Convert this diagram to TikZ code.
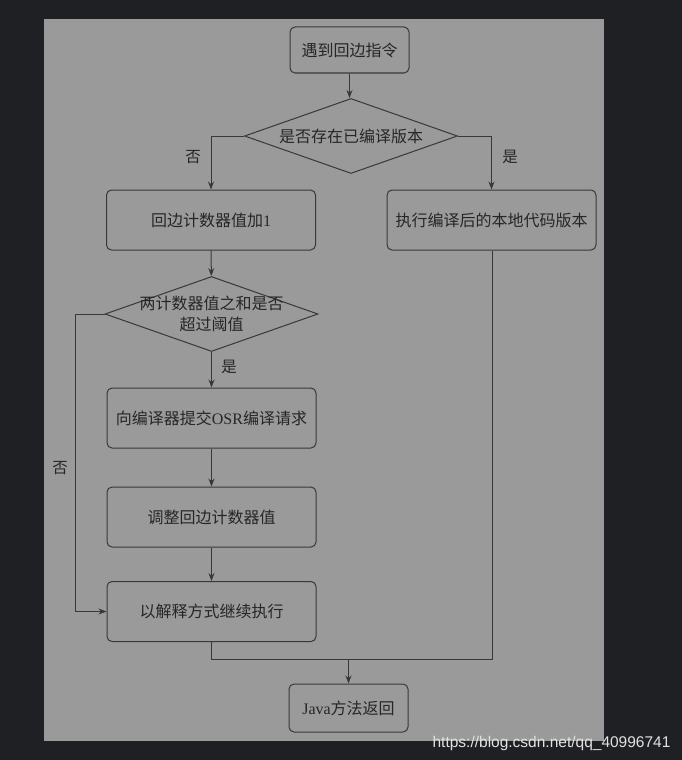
\documentclass[tikz,border=0pt]{standalone}
\usepackage{fontspec}
\setmainfont{Liberation Serif}
\setsansfont{Liberation Sans}
\newfontfamily\cjk{Noto Sans CJK SC}
\usetikzlibrary{arrows.meta,shapes.geometric}
\definecolor{bgdark}{HTML}{1F2023}
\definecolor{panel}{HTML}{9A9A9B}
\definecolor{ink}{HTML}{383838}
\definecolor{txt}{HTML}{262626}
\definecolor{wm}{HTML}{E2E2E2}
\tikzset{
  box/.style={draw=ink, line width=1pt, rounded corners=5pt, minimum width=#1, minimum height=60pt, inner sep=0pt, font=\fontsize{16}{20}\selectfont, text=txt, align=center},
  box/.default=209pt,
  dia/.style={draw=ink, line width=1pt, diamond, minimum width=213pt, minimum height=75pt, inner sep=0pt},
  dtext/.style={font=\fontsize{16}{21}\selectfont\cjk, text=txt, align=center},
  conn/.style={draw=ink, line width=1pt, -{Stealth[length=8pt,width=6pt]}},
  plain/.style={draw=ink, line width=1pt},
  lbl/.style={font=\fontsize{15.5}{18}\selectfont\cjk, text=txt}
}
\begin{document}
\begin{tikzpicture}[x=1pt,y=-1pt]
\fill[bgdark] (0,0) rectangle (682,760);
\fill[panel] (44,19) rectangle (604,741);
\useasboundingbox (0,0) rectangle (682,760);

\node[box=119pt, minimum height=46pt] (start) at (349.5,50) {\cjk 遇到回边指令};
\node[dia, xscale=1, label={[dtext]center:是否存在已编译版本}] (d1) at (351,136) {};
\node[box] (inc) at (211,220) {{\cjk 回边计数器值加}1};
\node[box] (exec) at (491.5,220) {\cjk 执行编译后的本地代码版本};
\node[dia, label={[dtext]center:两计数器值之和是否\\超过阈值}] (d2) at (211.5,314) {};
\node[box] (osr) at (211.5,418) {{\cjk 向编译器提交}OSR{\cjk 编译请求}};
\node[box] (adj) at (211.5,517) {\cjk 调整回边计数器值};
\node[box] (interp) at (211.5,611.5) {\cjk 以解释方式继续执行};
\node[box=119pt, minimum height=48pt] (ret) at (348.5,708) {Java{\cjk 方法返回}};

\coordinate (m1) at (211.5,659);
\coordinate (m2) at (492,659);
\coordinate (mj) at (348.5,659);

\draw[conn] (start) -- (start.south |- d1.north);
\draw[conn] (d1.west) -| (inc.north);
\draw[conn] (d1.east) -| (exec.north);
\draw[conn] (inc) -- (d2);
\draw[conn] (d2) -- (osr);
\draw[conn] (osr) -- (adj);
\draw[conn] (adj) -- (interp);
\draw[conn] (d2.west) -- ++(-29.5,0) |- (interp.west);
\draw[plain] (interp.south) -- (m1) -- (m2) -- (exec.south -| m2);
\draw[conn] (mj) -- (ret.north);

\node[lbl] at (193,157) {否};
\node[lbl] at (510,157) {是};
\node[lbl] at (229,367) {是};
\node[lbl] at (60,468) {否};

\node[font=\sffamily\fontsize{15.5}{17}\selectfont, text=wm, anchor=base east] at (674,747) {https://blog.csdn.net/qq\_40996741};
\end{tikzpicture}
\end{document}
